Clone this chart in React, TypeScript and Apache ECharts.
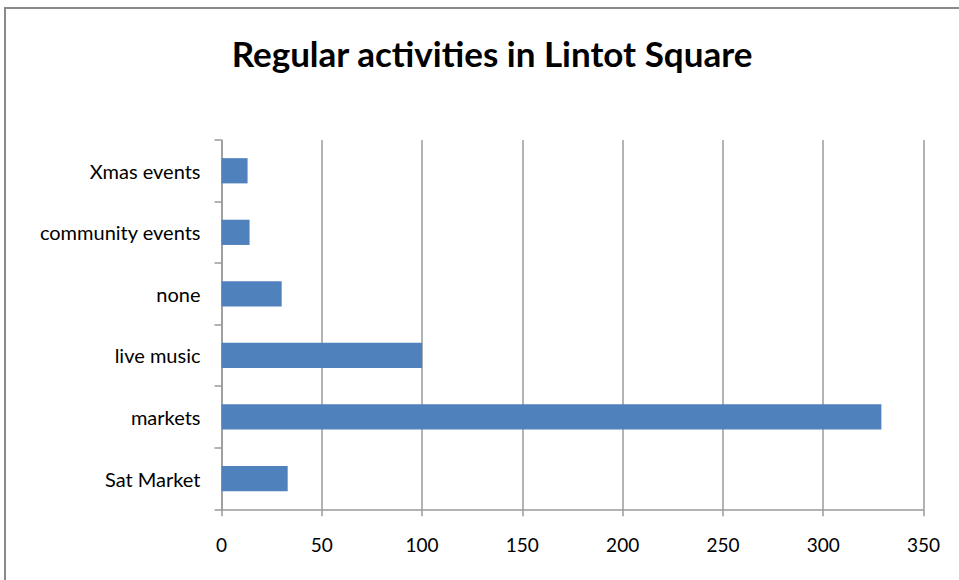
import React, { useEffect, useRef } from "react";
import * as echarts from "echarts";

const categories = ["Sat Market", "markets", "live music", "none", "community events", "Xmas events"];
const values = [33, 329, 100, 30, 14, 13];
const xMin = 0;
const xMax = 350;
const xInterval = 50;

export default function App() {
  const ref = useRef<HTMLDivElement>(null);
  useEffect(() => {
    if (!ref.current) return;
    const chart = echarts.init(ref.current, null, { renderer: "svg" });
    const gray = "#9a9a9a";
    chart.setOption({
      animation: false,
      backgroundColor: "#ffffff",
      title: {
        text: "Regular activities in Lintot Square",
        left: 487,
        textAlign: "center",
        top: 30,
        textStyle: { fontFamily: "Lato", fontWeight: "bold", fontSize: 35, color: "#000" },
      },
      graphic: [
        {
          type: "rect",
          shape: { x: 5, y: 8, width: 1000, height: 700 },
          style: { fill: "none", stroke: "#8a8a8a", lineWidth: 2 },
          silent: true,
        },
      ],
      grid: { left: 221.5, right: 35.5, top: 140, bottom: 70.7 },
      xAxis: {
        type: "value",
        min: xMin,
        max: xMax,
        interval: xInterval,
        axisLine: { show: true, lineStyle: { color: gray, width: 1.5 } },
        axisTick: { show: true, length: 7, lineStyle: { color: gray, width: 1.5 } },
        splitLine: { show: true, lineStyle: { color: gray, width: 1.5 } },
        axisLabel: { fontFamily: "Lato", fontSize: 19, color: "#000", margin: 26 },
      },
      yAxis: {
        type: "category",
        data: categories,
        axisLine: { show: true, lineStyle: { color: gray, width: 1.5 } },
        axisTick: { show: true, length: 7, lineStyle: { color: gray, width: 1.5 } },
        axisLabel: { fontFamily: "Lato", fontSize: 20, color: "#000", margin: 21 },
        splitLine: { show: false },
      },
      series: [
        {
          type: "bar",
          data: values,
          barCategoryGap: "59%",
          itemStyle: { color: "#4f81bd" },
        },
      ],
    });
    return () => chart.dispose();
  }, []);
  return (
    <div
      ref={ref}
      style={{ position: "fixed", left: 0, top: 0, width: 959, height: 580 }}
    />
  );
}
